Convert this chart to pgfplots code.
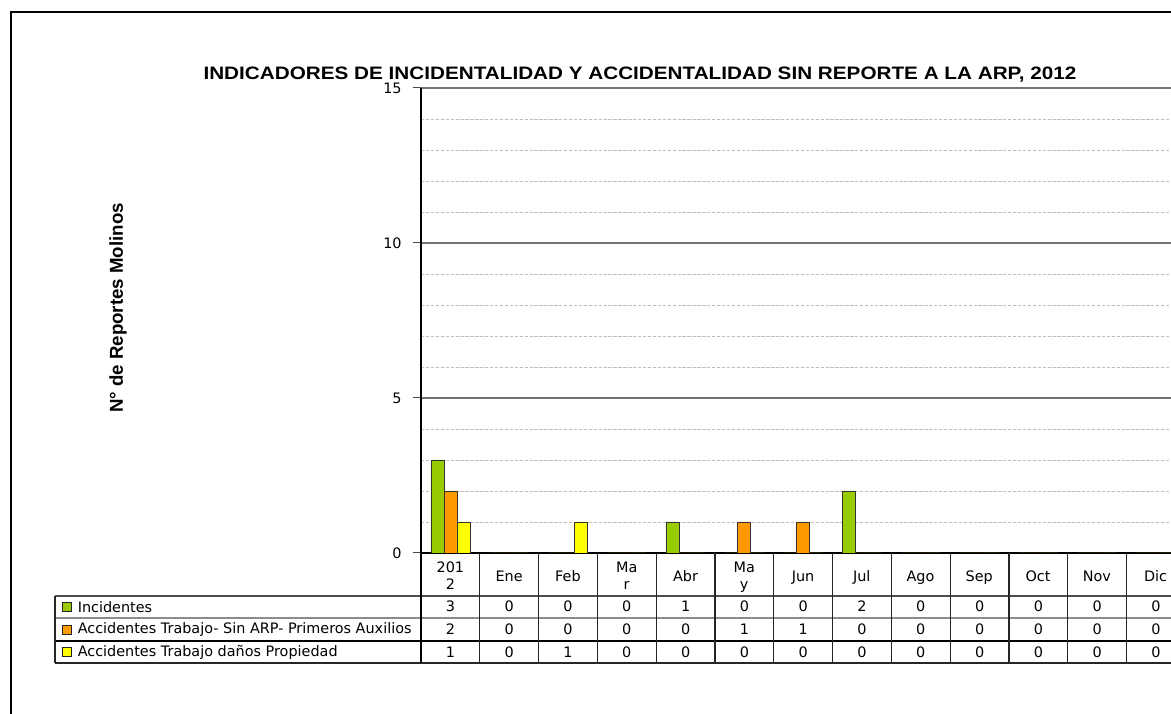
\documentclass[border=0pt]{standalone}
\usepackage{pgfplots}
\pgfplotsset{compat=1.18}
\usepackage{fontspec}
\setmainfont{DejaVu Sans}
\newfontfamily\arial{Liberation Sans}
\definecolor{cInc}{HTML}{99CC00}
\definecolor{cAcc}{HTML}{FF9900}
\definecolor{cDan}{HTML}{FFFF00}
\newcommand\tabfont{\fontsize{10.8}{12.75}\selectfont}
\begin{document}
\begin{tikzpicture}
\path[use as bounding box, clip] (0,0) rectangle (878.25pt,535.5pt);
\begin{axis}[
  at={(315.75pt,120.75pt)}, anchor=south west,
  width=573pt, height=348.75pt, scale only axis,
  xmin=-0.5, xmax=12.5, ymin=0, ymax=15,
  ybar=0pt, bar width=9.75pt,
  axis x line*=bottom, axis y line*=left,
  x axis line style={black, line width=1.2pt},
  y axis line style={black, line width=1.5pt},
  xtick={0,...,12},
  xticklabels={{\strut 201\\\strut 2},\strut Ene,\strut Feb,{\strut Ma\\\strut r},\strut Abr,
    {\strut Ma\\\strut y},\strut Jun,\strut Jul,\strut Ago,\strut Sep,\strut Oct,\strut Nov,\strut Dic},
  xtick style={draw=none},
  xticklabel style={font=\tabfont, align=center, anchor=center, inner sep=0pt, yshift=-12.5pt},
  ytick={0,5,10,15}, minor ytick={1,2,3,4,6,7,8,9,11,12,13,14},
  ymajorgrids, yminorgrids,
  major grid style={black!55, line width=0.8pt},
  minor grid style={black!25, dash pattern=on 2.5pt off 1.2pt, line width=0.6pt},
  tick align=outside, major tick length=6pt, minor tick length=0pt,
  ytick style={black!70, line width=0.75pt},
  yticklabel style={font=\tabfont, /pgf/number format/assume math mode=true, xshift=-5pt},
  every axis plot/.append style={draw=black!80, line width=0.5pt},
]
\addplot[fill=cInc] coordinates {(0,3)(1,0)(2,0)(3,0)(4,1)(5,0)(6,0)(7,2)(8,0)(9,0)(10,0)(11,0)(12,0)};
\addplot[fill=cAcc] coordinates {(0,2)(1,0)(2,0)(3,0)(4,0)(5,1)(6,1)(7,0)(8,0)(9,0)(10,0)(11,0)(12,0)};
\addplot[fill=cDan] coordinates {(0,1)(1,0)(2,1)(3,0)(4,0)(5,0)(6,0)(7,0)(8,0)(9,0)(10,0)(11,0)(12,0)};
\end{axis}
% frame, title, label and data table in pixel coordinates (y downward)
\begin{scope}[yshift=535.5pt, x=0.75pt, y=-0.75pt]
  \draw[black, line width=1.5pt] (11,720) -- (11,12) -- (1180,12);
  \node[font=\arial\bfseries\fontsize{13.5}{16}\selectfont] at (640,75)
    {\scalebox{1.15}[1]{INDICADORES DE INCIDENTALIDAD Y ACCIDENTALIDAD SIN REPORTE A LA ARP, 2012}};
  \node[font=\arial\bfseries\fontsize{14}{16}\selectfont, rotate=90] at (118,308)
    {N° de Reportes Molinos};
  % table grid
  \draw[black!70, line width=0.8pt] (55,596) -- (1190,596);
  \draw[black!45, line width=0.8pt] (55,618) -- (1190,618);
  \draw[black, line width=0.8pt] (55,641) -- (1190,641);
  \draw[black!85, line width=0.8pt] (55,663) -- (1190,663);
  \draw[black!85, line width=0.8pt] (55,596) -- (55,663);
  \draw[black, line width=1.5pt] (421,553) -- (421,663);
  \foreach \k in {1,...,13} \draw[black!85, line width=0.8pt] ({421+58.8*\k},553) -- ({421+58.8*\k},663);
  % legend keys and series names
  \foreach \c/\yy/\t in {cInc/607/Incidentes,
                         cAcc/629.5/Accidentes Trabajo- Sin ARP- Primeros Auxilios,
                         cDan/652/Accidentes Trabajo daños Propiedad} {
    \draw[fill=\c, draw=black!85, line width=0.6pt] (62.5,\yy-4.5) rectangle (71.5,\yy+4.5);
    \node[font=\tabfont, anchor=west, inner sep=0pt] at (77.5,\yy) {\t};
  }
  % values
  \foreach \v [count=\i from 0] in {3,0,0,0,1,0,0,2,0,0,0,0,0}
    \node[font=\tabfont] at ({421+58.8*(\i+0.5)},606.5) {\v};
  \foreach \v [count=\i from 0] in {2,0,0,0,0,1,1,0,0,0,0,0,0}
    \node[font=\tabfont] at ({421+58.8*(\i+0.5)},629.5) {\v};
  \foreach \v [count=\i from 0] in {1,0,1,0,0,0,0,0,0,0,0,0,0}
    \node[font=\tabfont] at ({421+58.8*(\i+0.5)},652) {\v};
\end{scope}
\end{tikzpicture}
\end{document}
